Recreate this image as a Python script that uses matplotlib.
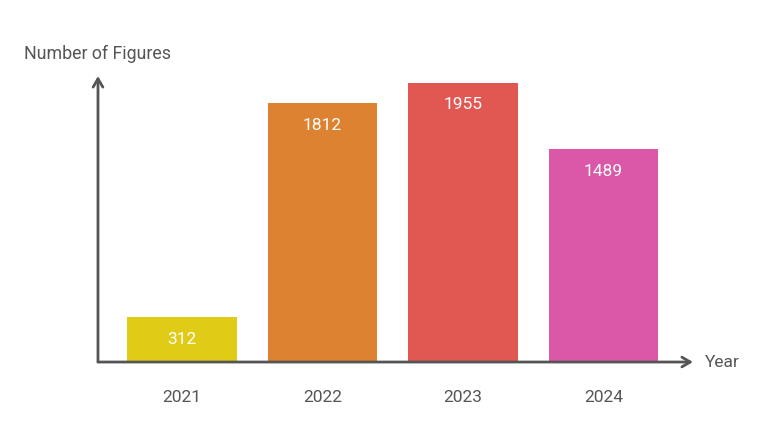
import matplotlib.pyplot as plt

plt.rcParams["font.family"] = ["Roboto", "DejaVu Sans"]

# Data
years = ["2021", "2022", "2023", "2024"]
figures = [312, 1812, 1955, 1489]
bar_colors = ["#E0CB16", "#DD8231", "#E15752", "#DB57A8"]

AXIS_COLOR = "#555555"
TEXT_COLOR = "#555555"

fig = plt.figure(figsize=(7.71, 4.32), dpi=100)
ax = fig.add_axes([0.1271, 0.162, 0.7717, 0.662])

x = list(range(len(years)))
bars = ax.bar(x, figures, width=0.78, color=bar_colors, zorder=2)

# value labels inside the bars
for rect, val in zip(bars, figures):
    ax.annotate(
        str(val),
        xy=(rect.get_x() + rect.get_width() / 2, rect.get_height()),
        xytext=(0, -22),
        textcoords="offset pixels",
        ha="center", va="center",
        color="white", fontsize=12.5,
    )

ax.set_xlim(-0.598, 3.637)
ax.set_ylim(0, 2003)

# Hide default axes, draw arrow axes
for s in ax.spines.values():
    s.set_visible(False)
ax.set_yticks([])
ax.set_xticks(x)
ax.set_xticklabels(years, fontsize=12.5, color=TEXT_COLOR)
ax.tick_params(axis="x", length=0, pad=20)

arrow = dict(arrowstyle="->,head_length=0.6,head_width=0.35", color=AXIS_COLOR,
             lw=2, shrinkA=0, shrinkB=0)
ax.annotate("", xy=(1, 0), xytext=(0, 0), xycoords="axes fraction",
            arrowprops=arrow, zorder=3)
ax.annotate("", xy=(0, 1), xytext=(0, 0), xycoords="axes fraction",
            arrowprops=arrow, zorder=3)

ax.text(1.02, 0, "Year", transform=ax.transAxes, ha="left", va="center",
        fontsize=12.5, color=TEXT_COLOR)
ax.text(0, 1.077, "Number of Figures", transform=ax.transAxes, ha="center",
        va="center", fontsize=12.8, color=TEXT_COLOR)

fig.savefig("out.png", dpi=100)
